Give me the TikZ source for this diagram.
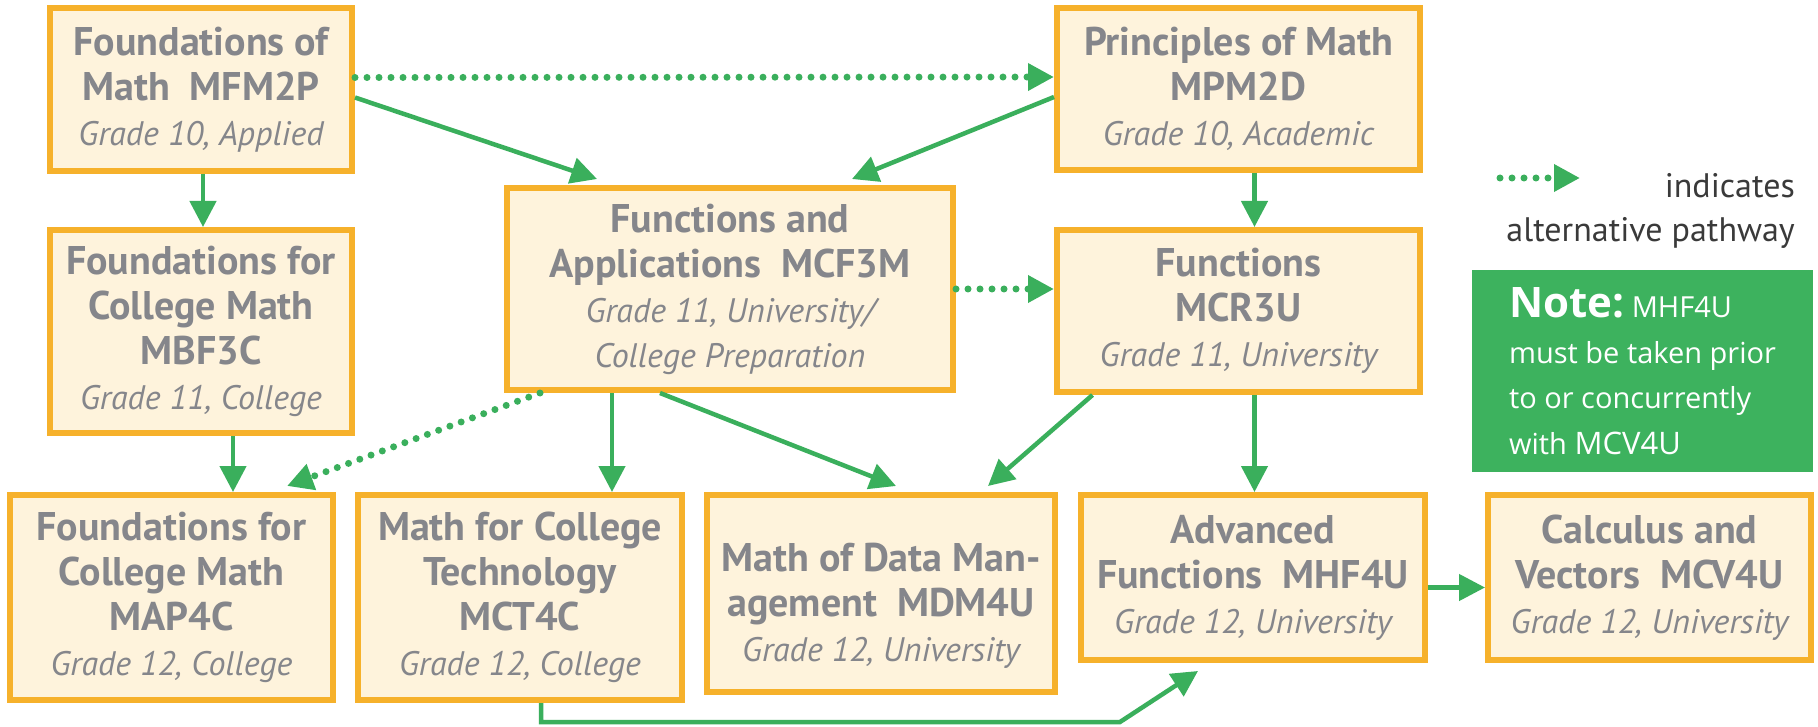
\documentclass[tikz,border=0pt]{standalone}
\usepackage{fontspec}
\setmainfont{PT Sans}
\newfontfamily\notefont{Open Sans}
\usetikzlibrary{arrows.meta}
\definecolor{boxfill}{HTML}{FEF3DC}
\definecolor{boxborder}{HTML}{F6B12B}
\definecolor{txtgray}{HTML}{85868B}
\definecolor{arrgreen}{HTML}{3AAF5C}
\definecolor{notegreen}{HTML}{3DB25E}
\definecolor{legtext}{HTML}{3A3A3A}
\newcommand\gr[1]{{\fontsize{34}{45}\selectfont\mdseries\itshape #1}}
\tikzset{
  course/.style={draw=boxborder, fill=boxfill, line width=6pt, text=txtgray,
    align=center, inner sep=0pt, font=\fontsize{40}{45}\selectfont\bfseries},
  coursetext/.style={text=txtgray, align=center, inner sep=0pt, font=\fontsize{40}{45}\selectfont\bfseries},
  arr/.style={draw=arrgreen, line width=4.5pt, -{Triangle[length=26pt,width=26pt]}},
  alt/.style={draw=arrgreen, line width=7pt, dash pattern=on 0pt off 12pt, line cap=round,
    -{Triangle[length=26pt,width=26pt]}},
}
\begin{document}
\begin{tikzpicture}[x=1pt,y=-1pt]
\useasboundingbox[fill=white] (0,0) rectangle (1818,727);
% row 1
\node[course, minimum width=302pt, minimum height=163pt] (mfm) at (201,89.5)
  {Foundations of\\Math\enspace MFM2P\\\gr{Grade 10, Applied}};
\node[course, minimum width=363pt, minimum height=162pt] (mpm) at (1238.5,89)
  {Principles of Math\\MPM2D\\\gr{Grade 10, Academic}};
% row 2
\node[course, minimum width=302pt, minimum height=203pt] (mbf) at (201,331.5)
  {Foundations for\\College Math\\MBF3C\\\gr{Grade 11, College}};
\node[course, minimum width=446pt, minimum height=202pt] (mcf) at (730,289)
  {Functions and\\Applications\enspace MCF3M\\\gr{Grade 11, University/}\\\gr{College Preparation}};
\node[course, minimum width=363pt, minimum height=162pt] (mcr) at (1238.5,311)
  {Functions\\MCR3U\\\gr{Grade 11, University}};
% row 3
\node[course, minimum width=323pt, minimum height=205pt] (map) at (171.5,597.5)
  {Foundations for\\College Math\\MAP4C\\\gr{Grade 12, College}};
\node[course, minimum width=324pt, minimum height=205pt] (mct) at (520,597.5)
  {Math for College\\Technology\\MCT4C\\\gr{Grade 12, College}};
\node[course, minimum width=348pt, minimum height=197pt] (mdm) at (881,593.5) {};
\node[coursetext] (mdmtext) at ([yshift=-12pt]mdm.center)
  {Math of Data Man-\\agement\enspace MDM4U\\\gr{Grade 12, University}};
\node[course, minimum width=344pt, minimum height=165pt] (mhf) at (1253,577.5)
  {Advanced\\Functions\enspace MHF4U\\\gr{Grade 12, University}};
\node[course, minimum width=323pt, minimum height=165pt] (mcv) at (1649.5,577.5)
  {Calculus and\\Vectors\enspace MCV4U\\\gr{Grade 12, University}};
% note
\node[fill=notegreen, text=white, minimum width=341pt, minimum height=202pt, inner sep=0pt,
  align=left, font=\notefont\fontsize{29}{45.5}\selectfont] (note) at (1642.5,371)
  {{\fontsize{42}{45.5}\selectfont\bfseries Note:}\ MHF4U\\must be taken prior\\to or concurrently\\with {\fontsize{31}{45.5}\selectfont MCV4U}};
% legend
\coordinate (lgA) at (1500,178);
\coordinate (lgB) at (1580,178);
\draw[alt] (lgA) -- (lgB);
\node[anchor=base east, text=legtext, font=\fontsize{34}{44}\selectfont, inner sep=0pt] (leg1) at (1795,198) {indicates};
\node[anchor=base east, text=legtext, font=\fontsize{34}{44}\selectfont, inner sep=0pt] (leg2) at (1795,242) {alternative pathway};
% connectors
\draw[alt] ([yshift=12pt]mfm.east) -- ([yshift=12pt]mpm.west);
\draw[arr] ([yshift=-8pt]mfm.east) -- ([xshift=-133pt,yshift=6pt]mcf.north);
\draw[arr] ([yshift=-8pt]mpm.west) -- ([xshift=122pt,yshift=6pt]mcf.north);
\draw[arr] ([xshift=2pt]mfm.south) -- ([xshift=2pt]mfm.south |- mbf.north);
\draw[arr] ([xshift=16pt]mpm.south) -- ([xshift=16pt]mpm.south |- mcr.north);
\draw[alt] (mcf.east) -- (mcf.east -| mcr.west);
\draw[arr] ([xshift=32pt]mbf.south) -- ([xshift=32pt]mbf.south |- map.north);
\draw[alt] ([xshift=36pt]mcf.south west) -- ([xshift=-49pt,yshift=6pt]map.north east);
\draw[arr] ([xshift=-118pt]mcf.south) -- ([xshift=-118pt]mcf.south |- mct.north);
\draw[arr] ([xshift=-70pt]mcf.south) -- ([xshift=15pt,yshift=6pt]mdm.north);
\draw[arr] ([xshift=-146pt]mcr.south) -- ([xshift=107pt,yshift=6pt]mdm.north);
\draw[arr] ([xshift=16pt]mcr.south) -- ([xshift=16pt]mcr.south |- mhf.north);
\draw[arr] ([yshift=-10pt]mhf.east) -- ([yshift=-10pt]mhf.east -| mcv.west);
\coordinate (bend) at (1120,722);
\draw[arr] ([xshift=21pt]mct.south) |- (bend) -- ([xshift=-55pt,yshift=-8pt]mhf.south);
\end{tikzpicture}
\end{document}
